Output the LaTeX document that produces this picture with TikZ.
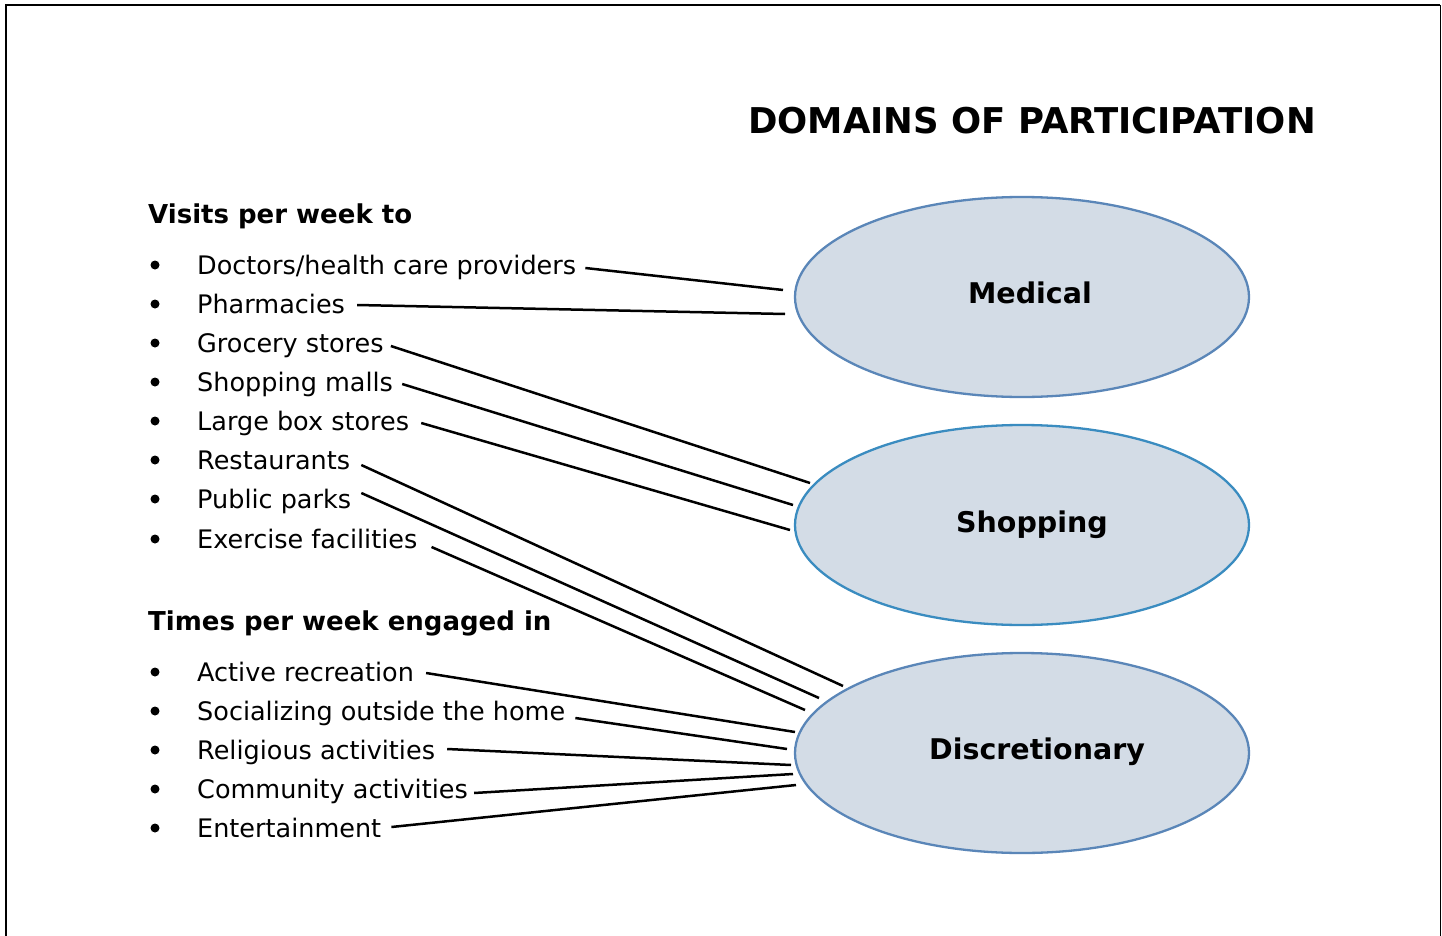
\documentclass[tikz,border=0pt]{standalone}
\usepackage{fontspec}
\setmainfont{DejaVu Sans}
\usetikzlibrary{shapes.geometric,calc}
\definecolor{efill}{HTML}{D3DCE6}
\definecolor{estrokeA}{HTML}{5A86B8}
\definecolor{estrokeB}{HTML}{3A8CC0}
\begin{document}
\begin{tikzpicture}[x=1pt,y=-1pt,
  item/.style={anchor=base west,inner sep=0pt,font=\fontsize{25.5}{30}\selectfont},
  head/.style={anchor=base west,inner sep=0pt,font=\fontsize{26}{30}\selectfont\bfseries},
  dom/.style={ellipse,fill=efill,draw=estrokeA,line width=2.3pt,minimum width=454pt,minimum height=200pt},
  lab/.style={inner sep=0pt,font=\fontsize{28.5}{34}\selectfont\bfseries},
  conn/.style={line width=2.5pt,black},
  bul/.style={circle,fill=black,inner sep=0pt,minimum size=9pt}]
\useasboundingbox (0,0) rectangle (1442,936);
\fill[white] (0,0) rectangle (1442,936);
\draw[line width=2.5pt] (6,936) -- (6,5) -- (1440,5);
\draw[line width=1pt] (1440,5) -- (1440,936);
\node[anchor=base west,inner sep=0pt,font=\fontsize{35.5}{40}\selectfont\bfseries] (title) at (748,134) {DOMAINS OF PARTICIPATION};
\node[head] (h1) at (148,223) {Visits per week to};
\node[head] (h2) at (148,630) {Times per week engaged in};
% items
\foreach \n/\y/\t in {doc/274/{Doctors/health care providers},pha/313/Pharmacies,gro/352/Grocery stores,mal/391/Shopping malls,lar/430/Large box stores,res/469/Restaurants,par/508/Public parks,exe/548/Exercise facilities,act/681/Active recreation,soc/720/Socializing outside the home,rel/759/Religious activities,com/798/Community activities,ent/837/Entertainment}{
  \node[item] (\n) at (197,\y) {\t};
  \node[bul] (b\n) at (155,\y-9) {};
}
\node[dom] (med) at (1022,297) {};
\node[dom,draw=estrokeB] (shop) at (1022,525) {};
\node[dom] (disc) at (1022,753) {};
\node[lab] (medl) at (1030,293) {Medical};
\node[lab] (shopl) at (1032,525) {Shopping};
\node[lab] (discl) at (1037,752) {Discretionary};
% connectors
\draw[conn] ($(doc.base east)+(9,-6)$) -- ($(med.center)+(-239,-7)$);
\draw[conn] ($(pha.base east)+(12,-8)$) -- ($(med.center)+(-237,17)$);
\draw[conn] ($(gro.base east)+(7,-6)$) -- ($(shop.center)+(-212,-42)$);
\draw[conn] ($(mal.base east)+(9,-7)$) -- ($(shop.center)+(-229,-20)$);
\draw[conn] ($(lar.base east)+(12,-7)$) -- ($(shop.center)+(-232,5)$);
\draw[conn] ($(res.base east)+(11,-4)$) -- ($(disc.center)+(-179,-67)$);
\draw[conn] ($(par.base east)+(10,-15)$) -- ($(disc.center)+(-203,-55)$);
\draw[conn] ($(exe.base east)+(14,-1)$) -- ($(disc.center)+(-217,-43)$);
\draw[conn] ($(act.base east)+(12,-8)$) -- ($(disc.center)+(-227,-21)$);
\draw[conn] ($(soc.base east)+(10,-2)$) -- ($(disc.center)+(-235,-4)$);
\draw[conn] ($(rel.base east)+(12,-10)$) -- ($(disc.center)+(-231,12)$);
\draw[conn] ($(com.base east)+(6,-5)$) -- ($(disc.center)+(-229,21)$);
\draw[conn] ($(ent.base east)+(10,-10)$) -- ($(disc.center)+(-226,32)$);
\end{tikzpicture}
\end{document}
